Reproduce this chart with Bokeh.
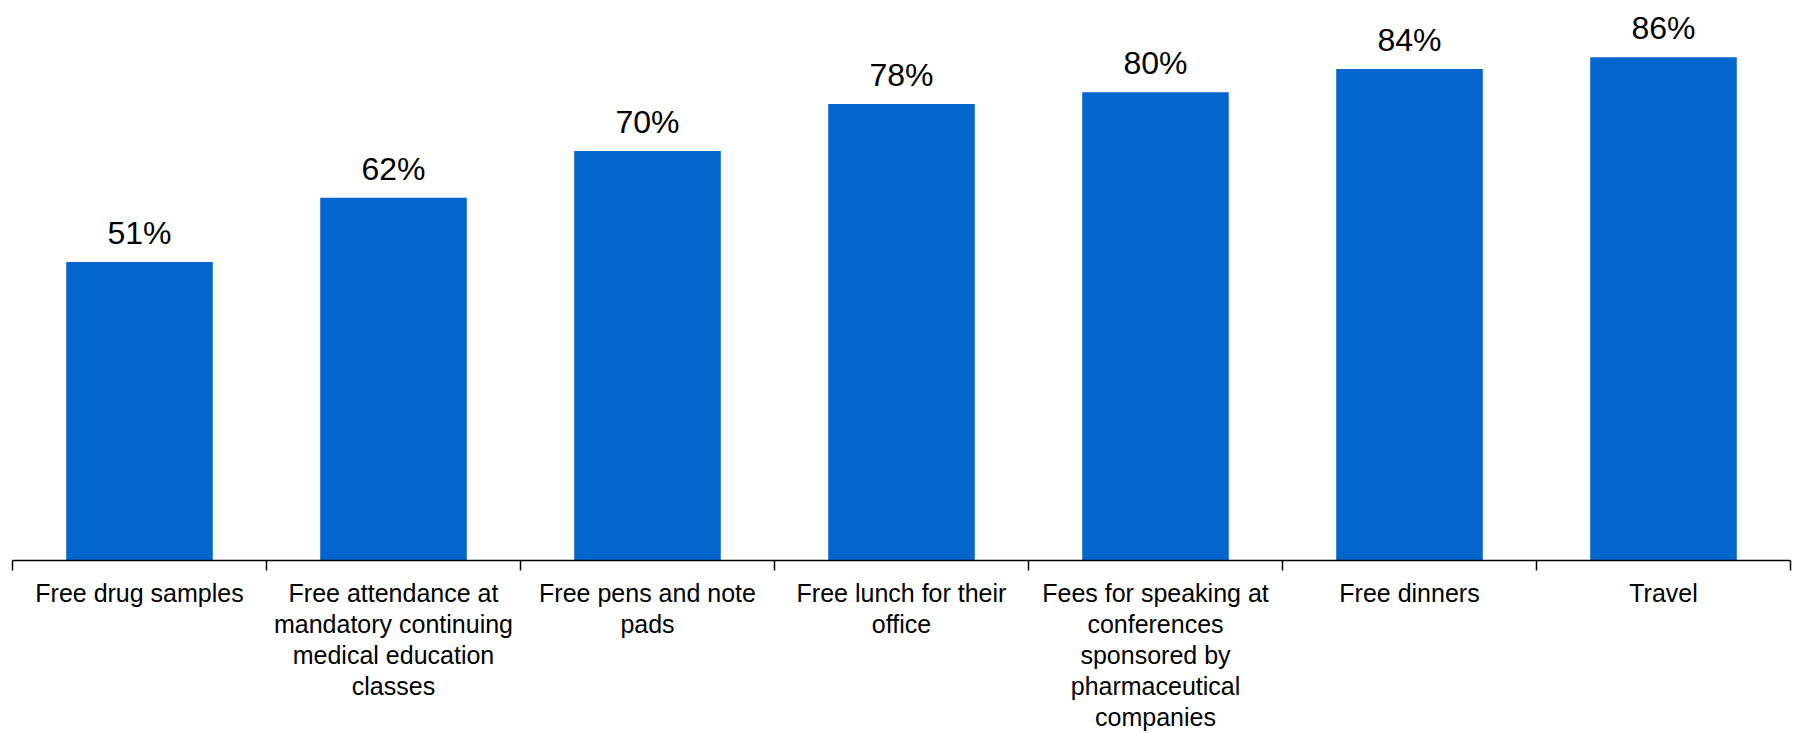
from bokeh.plotting import figure
from bokeh.models import Range1d, LinearAxis, FixedTicker, ColumnDataSource
from bokeh.core.properties import value
from bokeh.embed import file_html
from bokeh.resources import INLINE

categories = [
    "Free drug samples",
    "Free attendance at mandatory continuing medical education classes",
    "Free pens and note pads",
    "Free lunch for their office",
    "Fees for speaking at conferences sponsored by pharmaceutical companies",
    "Free dinners",
    "Travel",
]
tick_labels = [
    "Free drug samples",
    "Free attendance at\nmandatory continuing\nmedical education\nclasses",
    "Free pens and note\npads",
    "Free lunch for their\noffice",
    "Fees for speaking at\nconferences\nsponsored by\npharmaceutical\ncompanies",
    "Free dinners",
    "Travel",
]
values = [51, 62, 70, 78, 80, 84, 86]
value_labels = [f"{v}%" for v in values]

n = len(categories)
centers = [i + 0.5 for i in range(n)]
bounds = [float(i) for i in range(n + 1)]

src = ColumnDataSource(dict(x=centers, top=values, label=value_labels, name=categories))

p = figure(width=1793, height=734, x_range=Range1d(0, n), y_range=Range1d(0, 95.7),
           output_backend="svg", toolbar_location=None,
           x_axis_location=None, y_axis_location=None,
           min_border_left=12, min_border_right=3, min_border_top=0, min_border_bottom=174)
p.outline_line_color = None
p.xgrid.visible = False
p.ygrid.visible = False
p.background_fill_color = "white"
p.border_fill_color = "white"

p.vbar(x="x", top="top", width=0.577, bottom=0, source=src, fill_color="#0366CD", line_color=None)

p.text(x="x", y="top", text="label", source=src, text_align="center", text_baseline="alphabetic",
       y_offset=-29, text_font=value("Liberation Sans"), text_font_size="32px", text_color="#000000")

ax = LinearAxis(ticker=FixedTicker(ticks=centers, minor_ticks=bounds),
                major_label_overrides={c: t for c, t in zip(centers, tick_labels)})
ax.axis_line_color = "#000000"
ax.axis_line_width = 1.5
ax.major_tick_line_color = None
ax.major_tick_out = 0
ax.major_tick_in = 0
ax.minor_tick_line_color = "#000000"
ax.minor_tick_line_width = 1.5
ax.minor_tick_out = 10
ax.minor_tick_in = 0
ax.major_label_standoff = 8
ax.major_label_text_font = "Liberation Sans"
ax.major_label_text_font_size = "25px"
ax.major_label_text_color = "#000000"
ax.major_label_text_line_height = 1.11
p.add_layout(ax, "below")

open("out.html", "w").write(file_html(p, INLINE))
